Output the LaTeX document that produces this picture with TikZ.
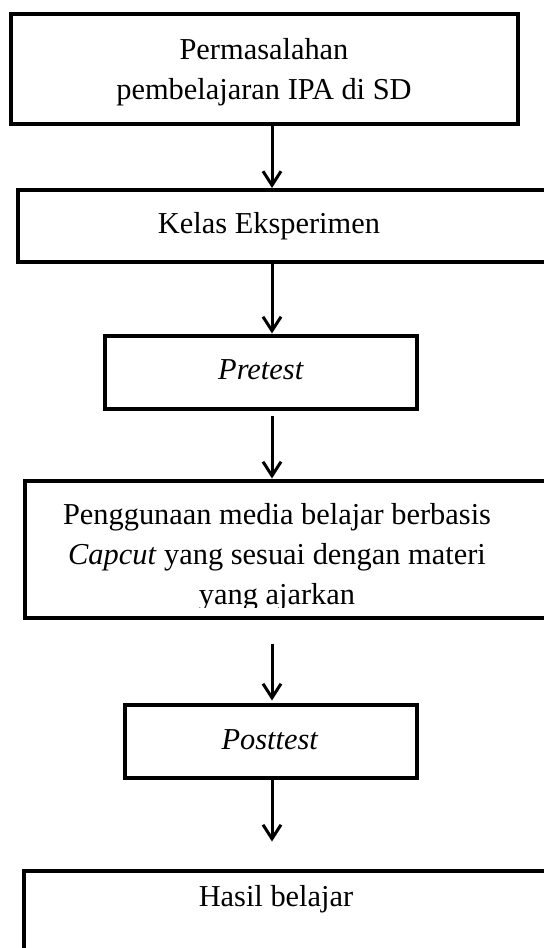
\documentclass[tikz,border=0pt]{standalone}
\usepackage{fontspec}
\setmainfont{Liberation Serif}
\usetikzlibrary{arrows.meta}

\begin{document}
\begin{tikzpicture}[
  x=0.5pt, y=-0.5pt,
  box/.style={draw, line width=2pt, inner sep=0pt},
  txt/.style={font=\fontsize{15.2}{20}\selectfont, align=center, inner sep=0pt},
  arr/.style={-{Straight Barb[length=7pt,width=9pt]}, line width=1.5pt}
]
\useasboundingbox (0,0) rectangle (544,948);
\clip (0,0) rectangle (544,948);
\coordinate (axis) at (272,0);

% Kotak 1 - Permasalahan
\node[box, minimum width=253.5pt, minimum height=55pt] (masalah) at (264,69) {};
\node[txt] (masalahT) at (264,72) {Permasalahan\\pembelajaran IPA di SD};

% Kotak 2 - Kelas (terpotong di kanan)
\node[box, minimum width=276pt, minimum height=36pt] (kelas) at (294,226) {};
\node[txt] (kelasT) at (269,226) {Kelas Eksperimen};

% Kotak 3 - Pretest
\node[box, minimum width=156pt, minimum height=36.5pt] (pretest) at (261,372) {};
\node[txt] (pretestT) at (261,370) {\textit{Pretest}};

% Kotak 4 - Media (baris terakhir terpotong)
\node[box, minimum width=272.5pt, minimum height=68.5pt] (media) at (297.5,549) {};
\begin{scope}
  \clip (0,0) rectangle (544,607);
  \node[txt] (mediaT) at (277,557) {Penggunaan media belajar berbasis\\\textit{Capcut} yang sesuai dengan materi\\yang ajarkan};
\end{scope}

% Kotak 5 - Posttest
\node[box, minimum width=146pt, minimum height=36.5pt] (posttest) at (271,741) {};
\node[txt] (posttestT) at (270,740) {\textit{Posttest}};

% Kotak 6 - Hasil
\node[box, minimum width=273pt, minimum height=64.5pt] (hasil) at (297,935) {};
\node[txt] (hasilT) at (276,899) {Hasil belajar};

% Panah antar kotak
\draw[arr] (masalah.south -| axis) -- (kelas.north -| axis);
\draw[arr] (kelas.south -| axis) -- (pretest.north -| axis);
\draw[arr, shorten <=2.5pt] (pretest.south -| axis) -- (media.north -| axis);
\draw[arr, shorten <=12pt, shorten >=1pt] (media.south -| axis) -- (posttest.north -| axis);
\draw[arr, shorten >=13.5pt] (posttest.south -| axis) -- (hasil.north -| axis);
\end{tikzpicture}
\end{document}
